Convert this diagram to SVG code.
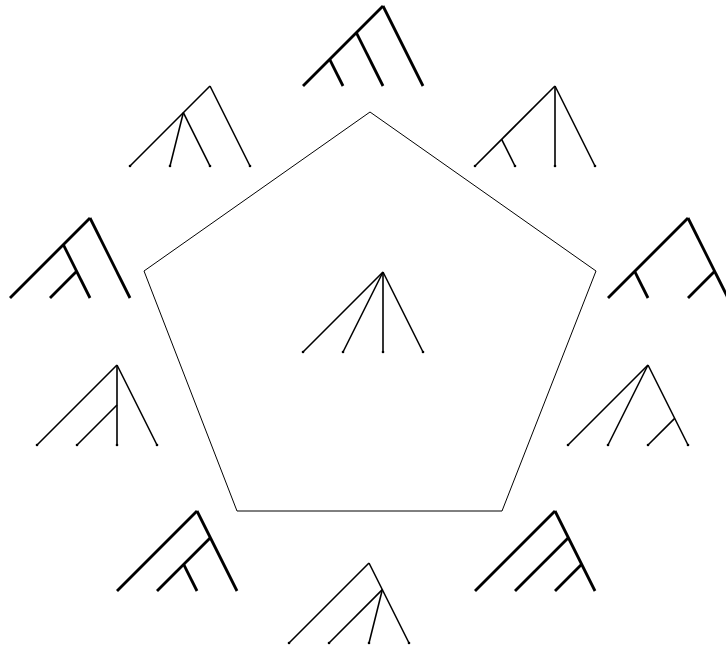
<svg xmlns="http://www.w3.org/2000/svg" width="726" height="648" viewBox="0 0 726 648">
<style>
.bin line{stroke:#000;stroke-width:2.8;stroke-linecap:butt}
.thin line{stroke:#000;stroke-width:1.6;stroke-linecap:butt}
.thin circle{fill:#000}
.pent{fill:none;stroke:#000;stroke-width:1}
</style>
<rect width="726" height="648" fill="#fff"/>
<g id="connectors">
<polygon class="pent" points="370,112 596,271 502,511 237,511 144,271"/>
</g>
<g id="tree-top" class="bin">
<line x1="303" y1="86" x2="383" y2="6"/>
<line x1="423" y1="86" x2="383" y2="6"/>
<line x1="383" y1="86" x2="356.33" y2="32.67"/>
<line x1="343" y1="86" x2="329.67" y2="59.33"/>
</g>
<g id="tree-upper-left" class="thin">
<line x1="130" y1="166" x2="210" y2="86"/>
<line x1="250" y1="166" x2="210" y2="86"/>
<line x1="170" y1="166" x2="183.33" y2="112.67"/>
<line x1="210" y1="166" x2="183.33" y2="112.67"/>
<circle cx="130" cy="166" r="1.3"/><circle cx="170" cy="166" r="1.3"/><circle cx="210" cy="166" r="1.3"/><circle cx="250" cy="166" r="1.3"/>
</g>
<g id="tree-upper-right" class="thin">
<line x1="475" y1="166" x2="555" y2="86"/>
<line x1="555" y1="166" x2="555" y2="86"/>
<line x1="595" y1="166" x2="555" y2="86"/>
<line x1="515" y1="166" x2="501.67" y2="139.33"/>
<circle cx="475" cy="166" r="1.3"/><circle cx="515" cy="166" r="1.3"/><circle cx="555" cy="166" r="1.3"/><circle cx="595" cy="166" r="1.3"/>
</g>
<g id="tree-left" class="bin">
<line x1="10" y1="298" x2="90" y2="218"/>
<line x1="130" y1="298" x2="90" y2="218"/>
<line x1="90" y1="298" x2="63.33" y2="244.67"/>
<line x1="50" y1="298" x2="76.67" y2="271.33"/>
</g>
<g id="tree-right" class="bin">
<line x1="608" y1="298" x2="688" y2="218"/>
<line x1="728" y1="298" x2="688" y2="218"/>
<line x1="648" y1="298" x2="634.67" y2="271.33"/>
<line x1="688" y1="298" x2="714.67" y2="271.33"/>
</g>
<g id="tree-center" class="thin">
<line x1="303" y1="352" x2="383" y2="272"/>
<line x1="343" y1="352" x2="383" y2="272"/>
<line x1="383" y1="352" x2="383" y2="272"/>
<line x1="423" y1="352" x2="383" y2="272"/>
<circle cx="303" cy="352" r="1.3"/><circle cx="343" cy="352" r="1.3"/><circle cx="383" cy="352" r="1.3"/><circle cx="423" cy="352" r="1.3"/>
</g>
<g id="tree-lower-left" class="thin">
<line x1="37" y1="445" x2="117" y2="365"/>
<line x1="117" y1="445" x2="117" y2="365"/>
<line x1="157" y1="445" x2="117" y2="365"/>
<line x1="77" y1="445" x2="117" y2="405"/>
<circle cx="37" cy="445" r="1.3"/><circle cx="77" cy="445" r="1.3"/><circle cx="117" cy="445" r="1.3"/><circle cx="157" cy="445" r="1.3"/>
</g>
<g id="tree-lower-right" class="thin">
<line x1="568" y1="445" x2="648" y2="365"/>
<line x1="608" y1="445" x2="648" y2="365"/>
<line x1="688" y1="445" x2="648" y2="365"/>
<line x1="648" y1="445" x2="674.67" y2="418.33"/>
<circle cx="568" cy="445" r="1.3"/><circle cx="608" cy="445" r="1.3"/><circle cx="648" cy="445" r="1.3"/><circle cx="688" cy="445" r="1.3"/>
</g>
<g id="tree-bottom-left" class="bin">
<line x1="117" y1="591" x2="197" y2="511"/>
<line x1="237" y1="591" x2="197" y2="511"/>
<line x1="157" y1="591" x2="210.33" y2="537.67"/>
<line x1="197" y1="591" x2="183.67" y2="564.33"/>
</g>
<g id="tree-bottom-right" class="bin">
<line x1="475" y1="591" x2="555" y2="511"/>
<line x1="595" y1="591" x2="555" y2="511"/>
<line x1="515" y1="591" x2="568.33" y2="537.67"/>
<line x1="555" y1="591" x2="581.67" y2="564.33"/>
</g>
<g id="tree-bottom" class="thin">
<line x1="289" y1="643" x2="369" y2="563"/>
<line x1="409" y1="643" x2="369" y2="563"/>
<line x1="329" y1="643" x2="382.33" y2="589.67"/>
<line x1="369" y1="643" x2="382.33" y2="589.67"/>
<circle cx="289" cy="643" r="1.3"/><circle cx="329" cy="643" r="1.3"/><circle cx="369" cy="643" r="1.3"/><circle cx="409" cy="643" r="1.3"/>
</g>
</svg>
